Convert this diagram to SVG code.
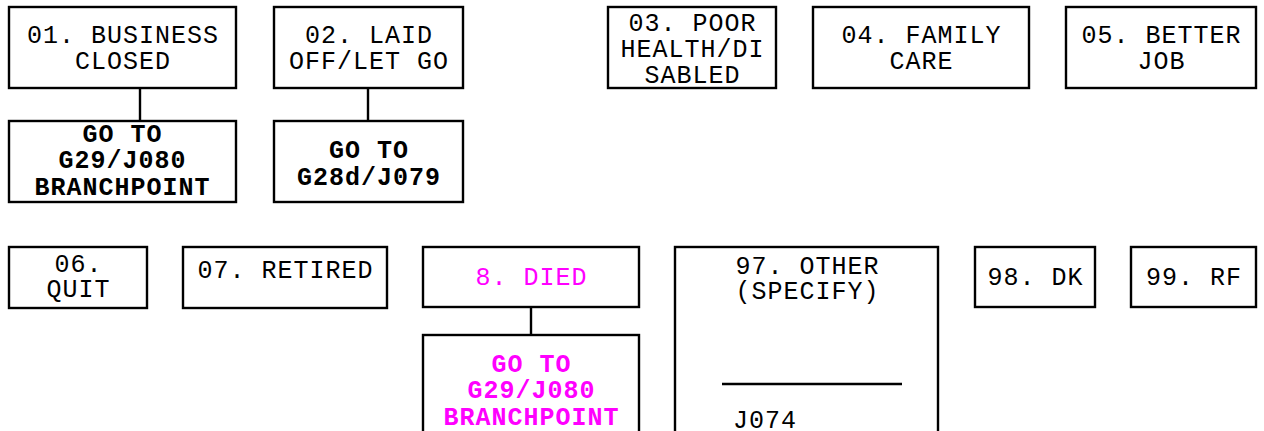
<svg xmlns="http://www.w3.org/2000/svg" width="1264" height="431" viewBox="0 0 1264 431">
<style>
.box{fill:#fff;stroke:#000;stroke-width:2.4}
.t{font-family:"Liberation Mono","Courier New",monospace;font-size:25px;letter-spacing:1px;fill:#000;text-anchor:middle}
.b{font-weight:bold}
.m{fill:#FF00FF}
.conn{stroke:#000;stroke-width:2.4;fill:none}
</style>
<rect width="1264" height="431" fill="#fff"/>
<g id="connectors">
<line class="conn" x1="140" y1="88" x2="140" y2="121"/>
<line class="conn" x1="368" y1="88" x2="368" y2="121"/>
<line class="conn" x1="531" y1="307" x2="531" y2="335"/>
</g>
<g id="n01"><rect class="box" x="9" y="7" width="227" height="81"/>
<text class="t" x="123" y="43">01. BUSINESS</text><text class="t" x="123" y="69">CLOSED</text></g>
<g id="n01goto"><rect class="box" x="9" y="121" width="227" height="81"/>
<text class="t b" x="122.5" y="142">GO TO</text><text class="t b" x="122.5" y="168">G29/J080</text><text class="t b" x="122.5" y="195">BRANCHPOINT</text></g>
<g id="n02"><rect class="box" x="274" y="7" width="189" height="81"/>
<text class="t" x="369" y="43">02. LAID</text><text class="t" x="369" y="69">OFF/LET GO</text></g>
<g id="n02goto"><rect class="box" x="274" y="121" width="189" height="81"/>
<text class="t b" x="369" y="158">GO TO</text><text class="t b" x="369" y="185">G28d/J079</text></g>
<g id="n03"><rect class="box" x="608" y="7" width="168" height="81"/>
<text class="t" x="692.5" y="31">03. POOR</text><text class="t" x="692.5" y="57">HEALTH/DI</text><text class="t" x="692.5" y="83">SABLED</text></g>
<g id="n04"><rect class="box" x="813" y="7" width="216" height="81"/>
<text class="t" x="921.5" y="42.5">04. FAMILY</text><text class="t" x="921.5" y="68.5">CARE</text></g>
<g id="n05"><rect class="box" x="1066" y="7" width="190" height="81"/>
<text class="t" x="1161.5" y="42.5">05. BETTER</text><text class="t" x="1161.5" y="68.5">JOB</text></g>
<g id="n06"><rect class="box" x="9" y="247" width="138" height="61"/>
<text class="t" x="78.5" y="272">06.</text><text class="t" x="78.5" y="297">QUIT</text></g>
<g id="n07"><rect class="box" x="183" y="247" width="204" height="61"/>
<text class="t" x="285.5" y="278">07. RETIRED</text></g>
<g id="n08"><rect class="box" x="423" y="247" width="216" height="60"/>
<text class="t m" x="531.5" y="285">8. DIED</text></g>
<g id="n08goto"><rect class="box" x="423" y="335" width="216" height="110"/>
<text class="t b m" x="531.5" y="372">GO TO</text><text class="t b m" x="531.5" y="398">G29/J080</text><text class="t b m" x="531.5" y="425">BRANCHPOINT</text></g>
<g id="n97"><rect class="box" x="675" y="247" width="263" height="200"/>
<text class="t" x="807.5" y="274">97. OTHER</text><text class="t" x="807.5" y="299">(SPECIFY)</text>
<line class="conn" x1="722" y1="384" x2="902" y2="384"/>
<text class="t" x="733" y="428" style="text-anchor:start">J074</text></g>
<g id="n98"><rect class="box" x="975" y="247" width="120" height="60"/>
<text class="t" x="1035.5" y="285">98. DK</text></g>
<g id="n99"><rect class="box" x="1131" y="247" width="125" height="60"/>
<text class="t" x="1194" y="285">99. RF</text></g>
</svg>
